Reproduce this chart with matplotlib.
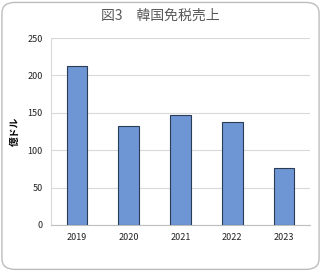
import matplotlib.pyplot as plt
from matplotlib.patches import FancyBboxPatch

plt.rcParams['font.family'] = ['Noto Sans CJK JP', 'DejaVu Sans']

YEARS = ['2019', '2020', '2021', '2022', '2023']
SALES = [213, 132, 147, 138, 76]
YTICKS = [0, 50, 100, 150, 200, 250]

fig = plt.figure(figsize=(3.21, 2.71), dpi=100)
fig.patches.append(FancyBboxPatch((0.006, 0.006), 0.988, 0.985,
                                  boxstyle='round,pad=0,rounding_size=0.04',
                                  transform=fig.transFigure, fill=False,
                                  edgecolor='#bdbdbd', linewidth=1.0))

ax = fig.add_axes([51 / 321, 1 - 225 / 271, 259 / 321, 187 / 271])
ax.bar(range(len(YEARS)), SALES, width=0.4, color='#6f96d4',
       edgecolor='#2c3b55', linewidth=0.8, zorder=3)
ax.set_xlim(-0.5, len(YEARS) - 0.5)
ax.set_ylim(0, 250)
ax.set_yticks(YTICKS)
ax.set_xticks(range(len(YEARS)))
ax.set_xticklabels(YEARS)
ax.tick_params(length=0, labelsize=6.5, colors='#222222', pad=6)
ax.grid(axis='y', color='#d9d9d9', linewidth=0.8, zorder=0)
for s in ['top', 'right']:
    ax.spines[s].set_visible(False)
ax.spines['left'].set_color('#d9d9d9')
ax.spines['bottom'].set_color('#bfbfbf')
ax.set_ylabel('億ドル', fontsize=7, fontweight='bold', labelpad=5)

fig.text(0.5, 1 - 16 / 271, '図3\u3000韓国免税売上', ha='center', va='center',
         fontsize=10, color='#595959')

fig.savefig('out.png', dpi=100)
